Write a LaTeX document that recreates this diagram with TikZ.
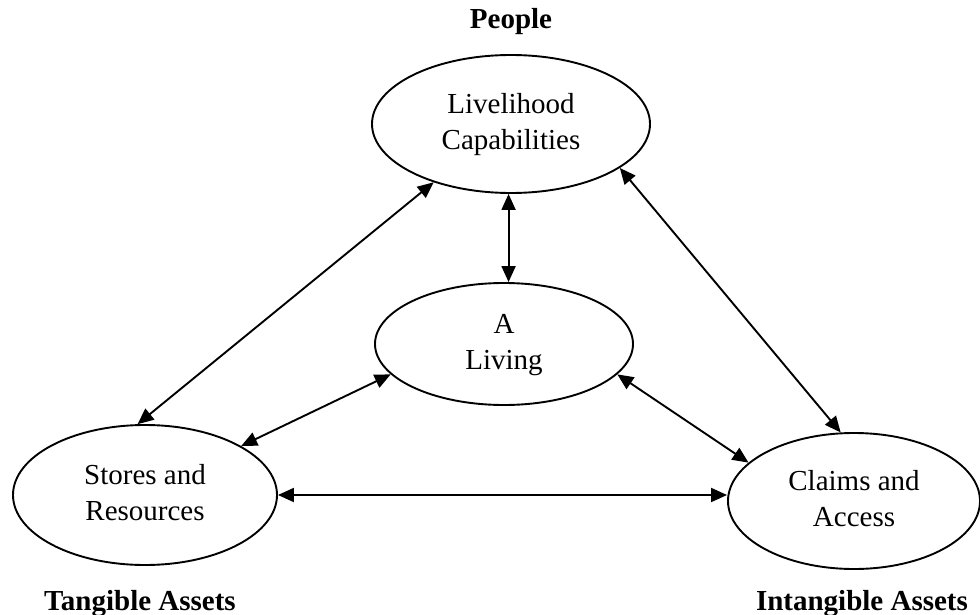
\documentclass[tikz,border=0pt]{standalone}
\usepackage{fontspec}
\setmainfont{Liberation Serif}
\usetikzlibrary{shapes.geometric,arrows.meta}
\tikzset{
  oval/.style={ellipse, draw, line width=1.9pt, inner sep=0pt, align=center,
    font=\fontsize{29}{36}\selectfont},
  link/.style={line width=1.9pt, {Triangle[length=16pt,width=14pt]}-{Triangle[length=16pt,width=14pt]}},
  tag/.style={anchor=base, font=\fontsize{29}{36}\selectfont\bfseries}
}
\begin{document}
\begin{tikzpicture}[x=1pt,y=-1pt]
\useasboundingbox (0,0) rectangle (980,615);
\node[oval, minimum width=278pt, minimum height=138pt] (T) at (511,124) {\strut Livelihood\\\strut Capabilities};
\node[oval, minimum width=258pt, minimum height=122pt] (M) at (504,344) {\strut A\\\strut Living};
\node[oval, minimum width=264pt, minimum height=140pt] (L) at (145,495) {\strut Stores and\\\strut Resources};
\node[oval, minimum width=252pt, minimum height=136pt] (R) at (854,501) {\strut Claims and\\\strut Access};
\node[tag] (people) at (511,29) {People};
\node[tag] (tang) at (140,610) {Tangible Assets};
\node[tag] (intang) at (862,610) {Intangible Assets};
\draw[link] (T.217) -- (L.96);
\draw[link] (T.268) -- (T.268 |- M.north);
\draw[link] (T.338) -- (R.101.5);
\draw[link] (M.195) -- (L.27);
\draw[link] (M.345) -- (R.160);
\draw[link] (L.east) -- (L.east -| R.west);
\end{tikzpicture}
\end{document}
